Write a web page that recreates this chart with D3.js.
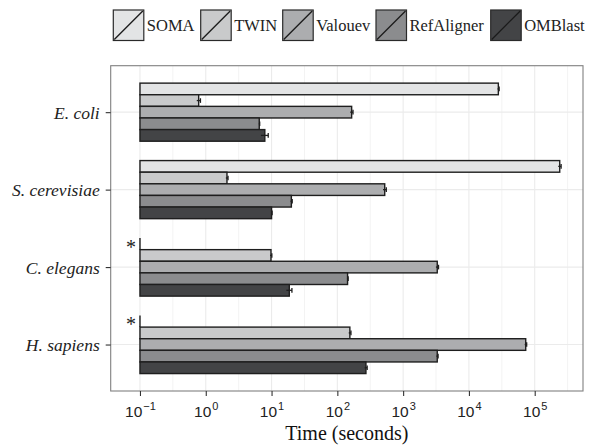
<!DOCTYPE html>
<html>
<head>
<meta charset="utf-8">
<script src="https://cdn.jsdelivr.net/npm/d3@7"></script>
<style>
  html, body { margin: 0; padding: 0; background: #ffffff; }
  svg { display: block; font-family: "Liberation Serif", "DejaVu Serif", serif; }
</style>
</head>
<body>
<svg id="chart" width="589" height="446"></svg>
<script>
// ---- data ----
const categories = ["E. coli", "S. cerevisiae", "C. elegans", "H. sapiens"];
const series = ["SOMA", "TWIN", "Valouev", "RefAligner", "OMBlast"];
const SOMA       = [28000, 240000, null, null];
const TWIN       = [0.78, 2.1, 9.8, 155];
const Valouev    = [165, 525, 3300, 73000];
const RefAligner = [6.5, 20, 143, 3300];
const OMBlast    = [7.9, 10, 18.6, 272];
const SOMA_err       = [800, 12000, null, null];
const TWIN_err       = [0.05, 0.08, 0.3, 6];
const Valouev_err    = [8, 30, 150, 2500];
const RefAligner_err = [0.1, 0.6, 3, 100];
const OMBlast_err    = [1.0, 0.2, 1.8, 12];
const xTickExponents = [-1, 0, 1, 2, 3, 4, 5];
const baseline = 0.1;
const xTitle = "Time (seconds)";

const values = {SOMA, TWIN, Valouev, RefAligner, OMBlast};
const errors = {SOMA: SOMA_err, TWIN: TWIN_err, Valouev: Valouev_err, RefAligner: RefAligner_err, OMBlast: OMBlast_err};
const fills = {SOMA: "#e3e4e5", TWIN: "#c9cacb", Valouev: "#acadaf", RefAligner: "#8b8c8e", OMBlast: "#434446"};

const rows = [];
categories.forEach((c, i) => series.forEach(s => rows.push({cat: c, s, v: values[s][i], e: errors[s][i]})));

// ---- layout ----
const svg = d3.select("#chart");
const P = {left: 110.7, right: 583, top: 65.7, bottom: 391};

const x = d3.scaleLog()
  .domain([Math.pow(10, -1.445), Math.pow(10, 5.734)])
  .range([P.left, P.right]);

const y = d3.scalePoint().domain(categories).range([P.top, P.bottom]).padding(0.6);
const step = y.step();
const inner = d3.scaleBand().domain(series).range([-0.375 * step, 0.375 * step]).paddingInner(0);

// panel grid
const g = svg.append("g");
const minorTicks = xTickExponents.map(e => Math.pow(10, e + 0.5));
g.selectAll(".minor").data(minorTicks).join("line")
  .attr("x1", d => x(d)).attr("x2", d => x(d))
  .attr("y1", P.top).attr("y2", P.bottom)
  .attr("stroke", "#f3f3f3").attr("stroke-width", 1);
g.selectAll(".major").data(xTickExponents.map(e => Math.pow(10, e))).join("line")
  .attr("x1", d => x(d)).attr("x2", d => x(d))
  .attr("y1", P.top).attr("y2", P.bottom)
  .attr("stroke", "#ebebeb").attr("stroke-width", 1.1);
g.selectAll(".hmajor").data(categories).join("line")
  .attr("x1", P.left).attr("x2", P.right)
  .attr("y1", d => y(d)).attr("y2", d => y(d))
  .attr("stroke", "#ebebeb").attr("stroke-width", 1.1);

// bars
const bars = svg.append("g");
bars.selectAll("rect").data(rows.filter(r => r.v != null)).join("rect")
  .attr("x", x(baseline))
  .attr("y", d => y(d.cat) + inner(d.s))
  .attr("width", d => x(d.v) - x(baseline))
  .attr("height", inner.bandwidth())
  .attr("fill", d => fills[d.s])
  .attr("stroke", "#1e1e1e").attr("stroke-width", 1.4);

// missing values: zero-width bar + asterisk
const missing = rows.filter(r => r.v == null);
bars.selectAll("line.miss").data(missing).join("line")
  .attr("x1", x(baseline)).attr("x2", x(baseline))
  .attr("y1", d => y(d.cat) + inner(d.s))
  .attr("y2", d => y(d.cat) + inner(d.s) + inner.bandwidth())
  .attr("stroke", "#1e1e1e").attr("stroke-width", 1.4);
bars.selectAll("text.ast").data(missing).join("text")
  .attr("x", x(baseline) - 4)
  .attr("y", d => y(d.cat) + inner(d.s) + inner.bandwidth() / 2 + 10)
  .attr("text-anchor", "end")
  .attr("font-size", 20).attr("fill", "#222")
  .text("*");

// error bars
const eb = svg.append("g").attr("stroke", "#1e1e1e").attr("stroke-width", 1.3);
const withErr = rows.filter(r => r.v != null && r.e != null);
const capH = inner.bandwidth() * 0.4;
eb.selectAll("line.h").data(withErr).join("line")
  .attr("x1", d => x(d.v - d.e)).attr("x2", d => x(d.v + d.e))
  .attr("y1", d => y(d.cat) + inner(d.s) + inner.bandwidth() / 2)
  .attr("y2", d => y(d.cat) + inner(d.s) + inner.bandwidth() / 2);
eb.selectAll("line.c1").data(withErr).join("line")
  .attr("x1", d => x(d.v + d.e)).attr("x2", d => x(d.v + d.e))
  .attr("y1", d => y(d.cat) + inner(d.s) + inner.bandwidth() / 2 - capH / 2)
  .attr("y2", d => y(d.cat) + inner(d.s) + inner.bandwidth() / 2 + capH / 2);

// panel border
svg.append("rect")
  .attr("x", P.left).attr("y", P.top)
  .attr("width", P.right - P.left).attr("height", P.bottom - P.top)
  .attr("fill", "none").attr("stroke", "#808080").attr("stroke-width", 1.1);

// x axis
const xAxis = d3.axisBottom(x)
  .tickValues(xTickExponents.map(e => Math.pow(10, e)))
  .tickSize(5).tickPadding(6).tickFormat(() => "");
const xa = svg.append("g").attr("transform", `translate(0,${P.bottom})`).call(xAxis);
xa.select(".domain").remove();
xa.selectAll(".tick line").attr("stroke", "#333").attr("stroke-width", 1.1);
xa.selectAll(".tick text").remove();
xa.selectAll(".tick").append("text")
  .attr("y", 25.5).attr("text-anchor", "middle").attr("fill", "#222")
  .attr("font-size", 15.5)
  .each(function(d) {
    const e = Math.round(Math.log10(d));
    const t = d3.select(this);
    t.append("tspan").text("10");
    t.append("tspan").attr("dy", -7).attr("dx", 1).attr("font-size", 11)
      .text(e < 0 ? "\u2212" + Math.abs(e) : String(e));
  });

// y axis
const yAxis = d3.axisLeft(y).tickSize(5).tickPadding(6);
const ya = svg.append("g").attr("transform", `translate(${P.left},0)`).call(yAxis);
ya.select(".domain").remove();
ya.selectAll(".tick line").attr("stroke", "#333").attr("stroke-width", 1.1);
ya.selectAll(".tick text")
  .attr("font-family", "'Liberation Serif', serif")
  .attr("font-style", "italic").attr("font-size", 17.5).attr("fill", "#222")
  .attr("dy", "0.34em");

// x title
svg.append("text")
  .attr("x", (P.left + P.right) / 2).attr("y", 440)
  .attr("text-anchor", "middle").attr("font-size", 20).attr("fill", "#111")
  .text(xTitle);

const legendX = [113.3, 200.7, 282.7, 376, 490.7];
const leg = svg.append("g");
const boxS = 30.5, boxY = 10;
series.forEach((s, i) => {
  const lx = legendX[i];
  const k = leg.append("g");
  k.append("rect").attr("x", lx).attr("y", boxY).attr("width", boxS).attr("height", boxS)
    .attr("fill", fills[s]).attr("stroke", "#2a2a2a").attr("stroke-width", 1.2);
  k.append("line").attr("x1", lx + 1).attr("y1", boxY + boxS - 1).attr("x2", lx + boxS - 1).attr("y2", boxY + 1)
    .attr("stroke", "#1a1a1a").attr("stroke-width", 1.3);
  k.append("text").attr("x", lx + boxS + 3).attr("y", boxY + boxS / 2 + 6)
    .attr("font-size", 16.5).attr("fill", "#222").text(s);
});
</script>
</body>
</html>
